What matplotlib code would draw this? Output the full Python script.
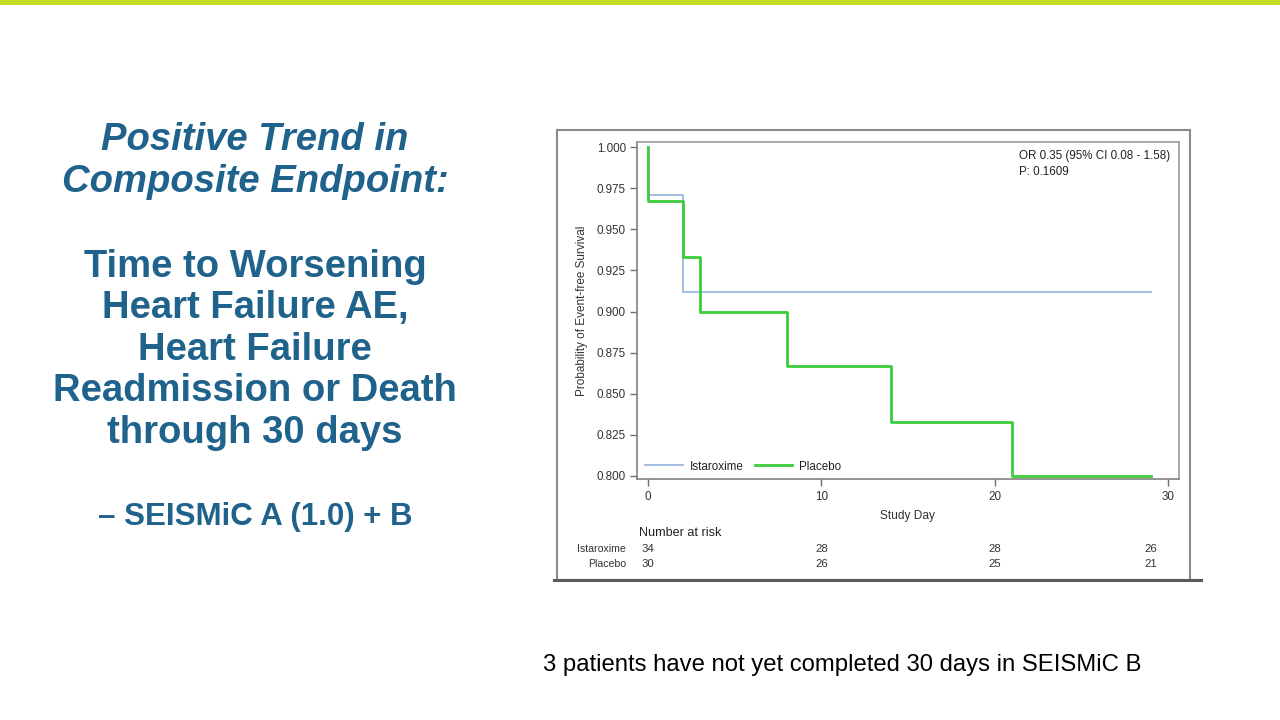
import matplotlib
matplotlib.use("Agg")
import matplotlib.pyplot as plt
from matplotlib.patches import Rectangle
from matplotlib.lines import Line2D
from matplotlib.transforms import blended_transform_factory

plt.rcParams['font.family'] = ['Liberation Sans', 'DejaVu Sans']

# ---- data ----
ista_days = [0, 0, 2, 29]
ista_surv = [1.000, 0.971, 0.912, 0.912]
plac_days = [0, 0, 2, 3, 8, 14, 21, 29]
plac_surv = [1.000, 0.967, 0.933, 0.900, 0.867, 0.833, 0.800, 0.800]

risk_days = [0, 10, 20, 29]
risk_ista = [34, 28, 28, 26]
risk_plac = [30, 26, 25, 21]

xticks = [0, 10, 20, 30]
yticks = [0.800, 0.825, 0.850, 0.875, 0.900, 0.925, 0.950, 0.975, 1.000]

title_lines_italic = ["Positive Trend in", "Composite Endpoint:"]
title_lines_bold = ["Time to Worsening", "Heart Failure AE,", "Heart Failure",
                    "Readmission or Death", "through 30 days"]
subtitle = "\u2013 SEISMiC A (1.0) + B"
footnote = "3 patients have not yet completed 30 days in SEISMiC B"
stats_text = "OR 0.35 (95% CI 0.08 - 1.58)\nP: 0.1609"

W, H = 1280, 720
fig = plt.figure(figsize=(12.8, 7.2), dpi=100)
fig.patch.set_facecolor('white')

def fx(px):
    return px / W

def fy(py):
    return 1 - py / H

# top lime bar
fig.add_artist(Rectangle((0, fy(5)), 1, 5 / H, transform=fig.transFigure,
                         facecolor='#c6de2a', edgecolor='none', zorder=0))

# left text
blue = '#1f628c'
for i, t in enumerate(title_lines_italic):
    fig.text(fx(255), fy(140 + 42 * i), t, ha='center', va='center',
             fontsize=27.5, fontweight='bold', fontstyle='italic', color=blue)
for i, t in enumerate(title_lines_bold):
    fig.text(fx(255), fy(267 + 41.5 * i), t, ha='center', va='center',
             fontsize=27.5, fontweight='bold', color=blue)
fig.text(fx(255), fy(517), subtitle, ha='center', va='center',
         fontsize=22.5, fontweight='bold', color=blue)

# footnote
fig.text(fx(543), fy(665), footnote, ha='left', va='center', fontsize=17.2, color='black')

# outer chart frame
fig.add_artist(Rectangle((fx(557), fy(580)), (1190 - 557) / W, (580 - 130) / H,
                         transform=fig.transFigure, facecolor='white',
                         edgecolor='#8a8a8a', linewidth=1.5, zorder=1))
fig.add_artist(Line2D([fx(554), fx(1201)], [fy(580), fy(580)], transform=fig.transFigure,
                      color='#5a5a5a', linewidth=2.2, zorder=2))

# axes
ax_l, ax_r, ax_t, ax_b = 637, 1179, 142, 479
ax = fig.add_axes([fx(ax_l), fy(ax_b), (ax_r - ax_l) / W, (ax_b - ax_t) / H])
ax.set_zorder(3)
ax.set_facecolor('white')

ax.plot(ista_days, ista_surv, drawstyle='steps-post', color='#9bb8e4', lw=1.3,
        label='Istaroxime', zorder=2)
ax.plot(plac_days, plac_surv, drawstyle='steps-post', color='#3ccc3c', lw=2.0,
        label='Placebo', zorder=3)

# y: 1.000 at px 147, 0.800 at px 476
ppu = (476 - 147) / 0.2
ax.set_ylim(0.800 - (ax_b - 476) / ppu, 1.000 + (147 - ax_t) / ppu)
xppu = (1168 - 648) / 30
ax.set_xlim((ax_l - 648) / xppu, (ax_r - 648) / xppu)

ax.set_yticks(yticks)
ax.set_yticklabels([f"{v:.3f}" for v in yticks])
ax.set_xticks(xticks)
ax.tick_params(axis='both', direction='out', length=5, width=1, color='#707070',
               labelsize=8.4, labelcolor='#333333', pad=3)
ax.tick_params(axis='x', pad=4)
for s in ax.spines.values():
    s.set_color('#9a9a9a')
    s.set_linewidth(1.2)
ax.spines['left'].set_color('#808080')
ax.spines['bottom'].set_color('#808080')

ax.set_ylabel('Probability of Event-free Survival', fontsize=8.5, color='#333333', labelpad=6)
ax.set_xlabel('Study Day', fontsize=8.6, color='#333333', labelpad=5)

ax.text(0.705, 0.975, stats_text, transform=ax.transAxes, ha='left', va='top',
        fontsize=8.4, color='#222222', linespacing=1.45)

leg = ax.legend(loc='lower left', frameon=False, ncol=2, fontsize=8.4,
                handlelength=3.2, columnspacing=1.0, handletextpad=0.6,
                bbox_to_anchor=(0.0, -0.005), borderaxespad=0.3)
for t in leg.get_texts():
    t.set_color('#222222')

# number at risk table
tr = blended_transform_factory(ax.transData, fig.transFigure)
fig.text(fx(639), fy(533), 'Number at risk', ha='left', va='center', fontsize=9.1,
         color='#222222')
fig.text(fx(626), fy(549), 'Istaroxime', ha='right', va='center', fontsize=7.6, color='#333333')
fig.text(fx(626), fy(564), 'Placebo', ha='right', va='center', fontsize=7.6, color='#333333')
for d, a, p in zip(risk_days, risk_ista, risk_plac):
    fig.text(d, fy(549), str(a), transform=tr, ha='center', va='center', fontsize=8.2,
             color='#333333')
    fig.text(d, fy(564), str(p), transform=tr, ha='center', va='center', fontsize=8.2,
             color='#333333')

fig.savefig('out.png', dpi=100, facecolor='white')
